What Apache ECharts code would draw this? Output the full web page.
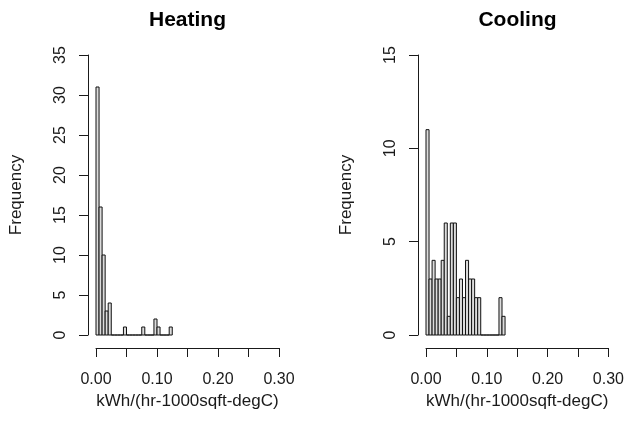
<!DOCTYPE html>
<html>
<head>
<meta charset="utf-8">
<script src="https://cdn.jsdelivr.net/npm/echarts@6/dist/echarts.min.js"></script>
<style>
html, body { margin: 0; padding: 0; background: #fff; }
#chart { width: 627px; height: 427px; }
</style>
</head>
<body>
<div id="chart"></div>
<script>
// histogram counts, bins of 0.005 starting at 0
const binWidth = 0.005
const heatingCounts = [31, 16, 10, 3, 4, 0, 0, 0, 0, 1, 0, 0, 0, 0, 0, 1, 0, 0, 0, 2, 1, 0, 0, 0, 1]
const coolingCounts = [11, 3, 4, 3, 3, 4, 6, 1, 6, 6, 2, 3, 2, 4, 3, 3, 2, 2, 0, 0, 0, 0, 0, 0, 2, 1]
const xTickLabels = ["0.00", "", "0.10", "", "0.20", "", "0.30"]
const titles = ["Heating", "Cooling"]
const yMax = [35, 15]
const xName = "kWh/(hr-1000sqft-degC)"
const yName = "Frequency"

const font = "Liberation Sans, Arial, sans-serif"
const ink = "#1a1a1a"

const toBins = (counts) => counts.map((c, i) => [i * binWidth, (i + 1) * binWidth, c])

const chart = echarts.init(document.getElementById("chart"))

const grids = [
  { left: 96, top: 55, width: 183, height: 280 },
  { left: 426, top: 55, width: 183, height: 280 },
]

const xAxis = grids.map((g, i) => ({
  type: "value",
  gridIndex: i,
  min: 0,
  max: 0.3,
  interval: 0.05,
  offset: 13,
  name: xName,
  nameLocation: "middle",
  nameGap: 41,
  nameTextStyle: { color: ink, fontSize: 17, fontFamily: font },
  axisLine: { onZero: false, lineStyle: { color: ink, width: 1 } },
  axisTick: { length: 9, lineStyle: { color: ink } },
  axisLabel: {
    color: ink,
    fontSize: 16,
    fontFamily: font,
    margin: 24,
    formatter: (v) => xTickLabels[Math.round(v / 0.05)] || "",
  },
  splitLine: { show: false },
}))

const yAxis = grids.map((g, i) => ({
  type: "value",
  gridIndex: i,
  min: 0,
  max: yMax[i],
  interval: 5,
  offset: 8,
  name: yName,
  nameLocation: "middle",
  nameGap: 63,
  nameRotate: 90,
  nameTextStyle: { color: ink, fontSize: 17, fontFamily: font },
  axisLine: { show: true, onZero: false, lineStyle: { color: ink, width: 1 } },
  axisTick: { show: true, length: 9, lineStyle: { color: ink } },
  axisLabel: { color: ink, fontSize: 16, fontFamily: font, rotate: 90, margin: 19 },
  splitLine: { show: false },
}))

const renderBin = (params, api) => {
  const p0 = api.coord([api.value(0), 0])
  const p1 = api.coord([api.value(1), api.value(2)])
  return {
    type: "rect",
    shape: { x: p0[0], y: p1[1], width: p1[0] - p0[0], height: p0[1] - p1[1] },
    style: { fill: "#dcdcdc", stroke: "#111", lineWidth: 1 },
  }
}

const option = {
  animation: false,
  title: titles.map((t, i) => ({
    text: t,
    left: grids[i].left + grids[i].width / 2,
    textAlign: "center",
    top: 10,
    padding: 0,
    textStyle: { color: "#000", fontSize: 21, fontWeight: "bold", fontFamily: font },
  })),
  grid: grids,
  xAxis,
  yAxis,
  series: [heatingCounts, coolingCounts].map((counts, i) => ({
    type: "custom",
    xAxisIndex: i,
    yAxisIndex: i,
    renderItem: renderBin,
    encode: { x: [0, 1], y: 2 },
    data: toBins(counts),
  })),
}
chart.setOption(option)
</script>
</body>
</html>
